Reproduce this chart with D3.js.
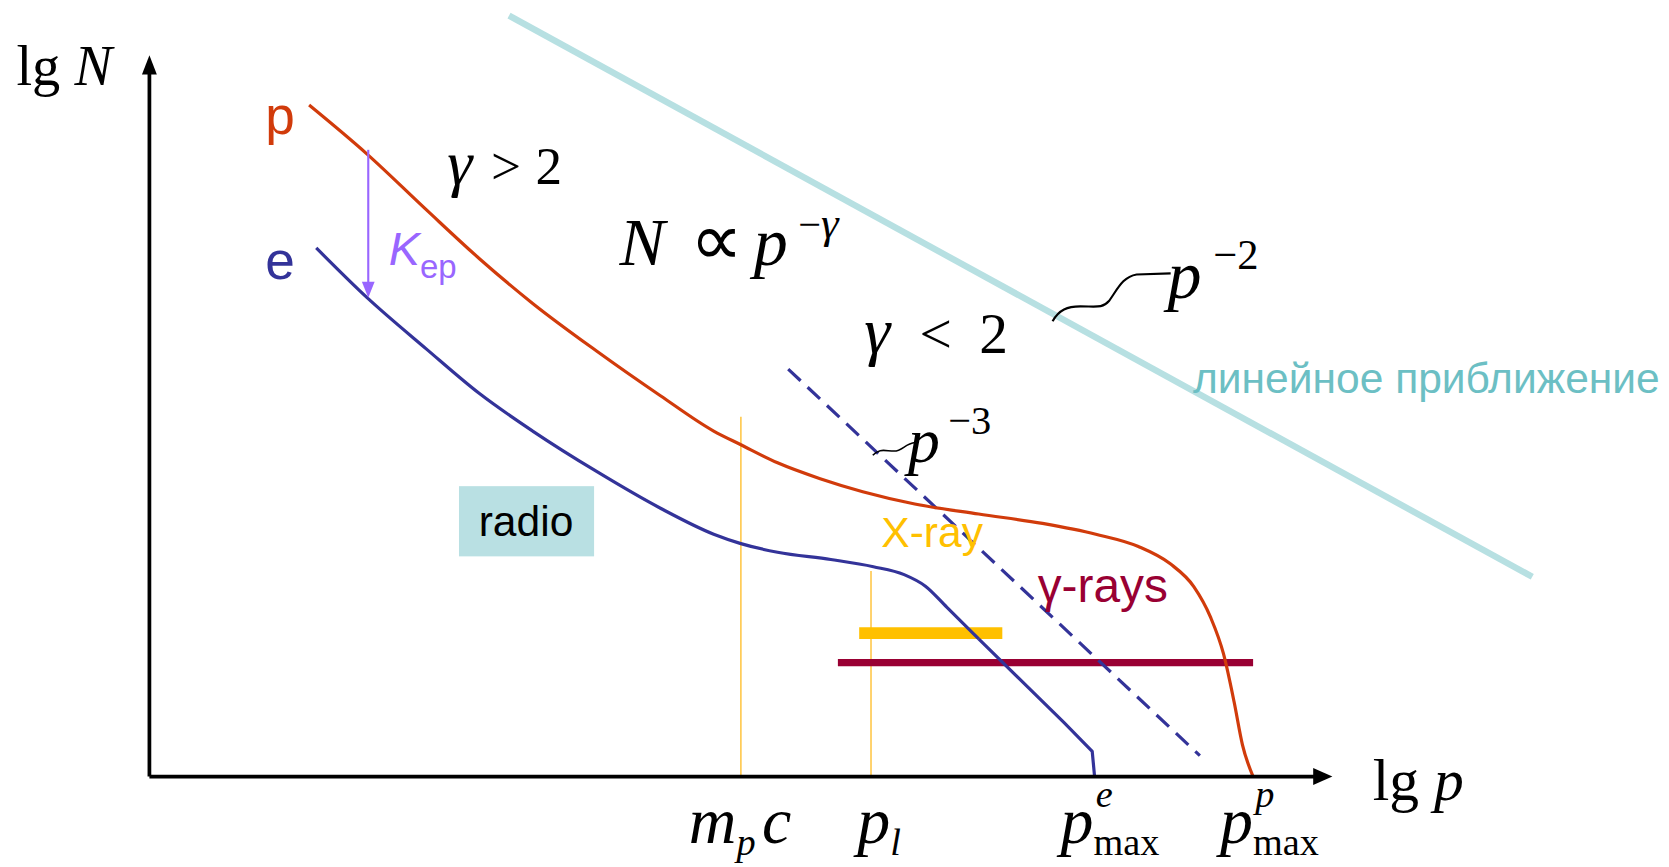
<!DOCTYPE html>
<html>
<head>
<meta charset="utf-8">
<script src="https://cdn.jsdelivr.net/npm/d3@7"></script>
<style>
  body { margin: 0; background: #fff; }
  text { font-family: "Liberation Sans", Arial, sans-serif; }
  .math { font-family: "Liberation Serif", "Times New Roman", serif; }
</style>
</head>
<body>
<div id="chart"></div>
<script>
// schematic spectra, arbitrary units: [lg p, lg N]
var protonCurve = [
  [1.35, 9.31], [1.84, 8.63], [2.34, 7.86], [2.79, 7.18], [3.24, 6.56],
  [3.78, 5.90], [4.32, 5.28], [4.77, 4.79], [5.00, 4.60], [5.31, 4.35],
  [5.67, 4.13], [6.03, 3.95], [6.47, 3.78], [7.01, 3.64], [7.55, 3.51],
  [8.00, 3.36], [8.36, 3.19], [8.63, 2.95], [8.83, 2.63], [8.97, 2.21],
  [9.08, 1.70], [9.17, 1.03], [9.24, 0.44], [9.33, 0.00]
];
var electronCurve = [
  [1.41, 7.33], [1.84, 6.64], [2.34, 5.93], [2.79, 5.31], [3.24, 4.79],
  [3.78, 4.23], [4.32, 3.72], [4.77, 3.36], [5.00, 3.23], [5.31, 3.11],
  [5.76, 3.01], [6.12, 2.91], [6.38, 2.80], [6.56, 2.64], [6.74, 2.35],
  [7.01, 1.91], [7.37, 1.33], [7.73, 0.75], [7.97, 0.35], [7.99, 0.00]
];
var electronBreak = 15;              // straight cut-off tail starts here
var slopeMinus3 = [[5.40, 5.65], [8.88, 0.29]];
var linearApprox = [[3.04, 10.55], [11.69, 2.77]];
var xrayBand = [6.00, 7.21, 1.99];   // from, to, level
var gammaBand = [5.82, 9.33, 1.58];
var kepArrow = [1.85, 8.69, 6.64];   // lg p, from, to
var markerValues = [5.00, 6.10];     // m_p c, p_l
var markerTops = [4.99, 2.85];
var tickValues = [5.00, 6.10, 7.99, 9.33];
var tickLabels = [
  { base: "m", sub: "p", tail: "c" },
  { base: "p", sub: "l" },
  { base: "p", sup: "e", sub: "max" },
  { base: "p", sup: "p", sub: "max" }
];

var W = 1568, H = 815;
var svg = d3.select("#chart").append("svg")
  .attr("width", 1669).attr("height", 867)
  .attr("viewBox", "0 0 " + W + " " + H);

var x = d3.scaleLinear().domain([0, 10]).range([140, 1252]);
var y = d3.scaleLinear().domain([0, 10]).range([730, 52]);

var line = d3.line()
  .x(function (d) { return x(d[0]); })
  .y(function (d) { return y(d[1]); });

// linear approximation
svg.append("path").datum(linearApprox)
  .attr("d", line).attr("fill", "none")
  .attr("stroke", "#B7E0E2").attr("stroke-width", 6);

// orange markers
svg.selectAll("line.marker").data(markerValues).enter().append("line")
  .attr("class", "marker")
  .attr("x1", function (d) { return x(d); })
  .attr("x2", function (d) { return x(d); })
  .attr("y1", function (d, i) { return y(markerTops[i]); })
  .attr("y2", y(0))
  .attr("stroke", "#FFC84A").attr("stroke-width", 1.5);

// bands
svg.append("line")
  .attr("x1", x(xrayBand[0])).attr("x2", x(xrayBand[1]))
  .attr("y1", y(xrayBand[2])).attr("y2", y(xrayBand[2]))
  .attr("stroke", "#FFC000").attr("stroke-width", 11);
svg.append("line")
  .attr("x1", x(gammaBand[0])).attr("x2", x(gammaBand[1]))
  .attr("y1", y(gammaBand[2])).attr("y2", y(gammaBand[2]))
  .attr("stroke", "#990033").attr("stroke-width", 7);

// p^-3 dashed
svg.append("path").datum(slopeMinus3)
  .attr("d", line).attr("fill", "none")
  .attr("stroke", "#333399").attr("stroke-width", 3)
  .attr("stroke-dasharray", "16,9");

var smooth = d3.line()
  .x(function (d) { return x(d[0]); })
  .y(function (d) { return y(d[1]); })
  .curve(d3.curveMonotoneX);

// electron: smooth body + straight tail with a sharp cut-off
svg.append("path").datum(electronCurve.slice(0, electronBreak + 1))
  .attr("d", smooth).attr("fill", "none")
  .attr("stroke", "#333399").attr("stroke-width", 3);
svg.append("path").datum(electronCurve.slice(electronBreak))
  .attr("d", line).attr("fill", "none")
  .attr("stroke", "#333399").attr("stroke-width", 3)
  .attr("stroke-linejoin", "round");
svg.append("path").datum(protonCurve)
  .attr("d", smooth).attr("fill", "none")
  .attr("stroke", "#D13B0B").attr("stroke-width", 3);

// axes
svg.append("line").attr("x1", x(0)).attr("x2", x(10) - 16)
  .attr("y1", y(0)).attr("y2", y(0))
  .attr("stroke", "#000").attr("stroke-width", 3.5);
svg.append("path")
  .attr("d", "M" + x(10) + "," + y(0) + "l-18,-8l0,16z").attr("fill", "#000");
svg.append("line").attr("x1", x(0)).attr("x2", x(0))
  .attr("y1", y(0)).attr("y2", y(10) + 16)
  .attr("stroke", "#000").attr("stroke-width", 3.5);
svg.append("path")
  .attr("d", "M" + x(0) + "," + y(10) + "l-7,18l14,0z").attr("fill", "#000");

// K_ep arrow
svg.append("line")
  .attr("x1", x(kepArrow[0])).attr("x2", x(kepArrow[0]))
  .attr("y1", y(kepArrow[1])).attr("y2", y(kepArrow[2]) - 12)
  .attr("stroke", "#9966FF").attr("stroke-width", 2);
svg.append("path")
  .attr("d", "M" + x(kepArrow[0]) + "," + y(kepArrow[2]) + "l-6,-15l12,0z")
  .attr("fill", "#9966FF");

// radio box
svg.append("rect").attr("x", 431).attr("y", 457).attr("width", 127).attr("height", 66)
  .attr("fill", "#B9E0E3");
svg.append("text").attr("x", 494).attr("y", 504).attr("text-anchor", "middle")
  .attr("font-size", 40).text("radio");

// axis titles
var t = svg.append("text").attr("class", "math").attr("x", 15).attr("y", 80).attr("font-size", 53);
t.append("tspan").text("lg ");
t.append("tspan").attr("font-style", "italic").text("N");
t = svg.append("text").attr("class", "math").attr("x", 1290).attr("y", 752).attr("font-size", 56);
t.append("tspan").text("lg ");
t.append("tspan").attr("font-style", "italic").text("p");

// tick labels
var ticks = svg.selectAll("g.tick").data(tickValues).enter().append("g")
  .attr("class", "tick")
  .attr("transform", function (d, i) {
    var off = [-49, -13, -32, -31][i];
    return "translate(" + (x(d) + off) + "," + (y(0) + 62) + ")";
  });
ticks.each(function (d, i) {
  var g = d3.select(this), lab = tickLabels[i];
  var base = g.append("text").attr("class", "math").attr("font-size", 62)
    .attr("font-style", "italic").text(lab.base);
  var w = base.node().getComputedTextLength();
  if (lab.sup) {
    g.append("text").attr("class", "math").attr("font-size", 36).attr("font-style", "italic")
      .attr("x", w + 2).attr("y", -33).text(lab.sup);
  }
  var sub = g.append("text").attr("class", "math").attr("font-size", 36)
    .attr("font-style", lab.sub === "max" ? "normal" : "italic")
    .attr("x", w).attr("y", 12).text(lab.sub);
  if (lab.tail) {
    var sw = sub.node().getComputedTextLength();
    g.append("text").attr("class", "math").attr("font-size", 62).attr("font-style", "italic")
      .attr("x", w + sw + 6).text(lab.tail);
  }
});

// series labels
svg.append("text").attr("x", 249).attr("y", 126).attr("font-size", 50)
  .attr("fill", "#D13B0B").text("p");
svg.append("text").attr("x", 249).attr("y", 262).attr("font-size", 50)
  .attr("fill", "#333399").text("e");
t = svg.append("text").attr("x", 365).attr("y", 249).attr("fill", "#9966FF");
t.append("tspan").attr("font-size", 44).attr("font-style", "italic").text("K");
t.append("tspan").attr("font-size", 31).attr("dy", 12).text("ep");

// formulas, glyphs placed one by one for the wide spacing
t = svg.append("text").attr("class", "math").attr("y", 173).attr("font-size", 50);
t.append("tspan").attr("x", 420).attr("font-size", 60).attr("font-style", "italic").text("\u03B3");
t.append("tspan").attr("x", 461).text(">");
t.append("tspan").attr("x", 503).text("2");

t = svg.append("text").attr("class", "math").attr("y", 249).attr("font-size", 64);
t.append("tspan").attr("x", 582).attr("font-style", "italic").text("N");
t.append("tspan").attr("x", 648).attr("font-size", 70).text("\u221D");
t.append("tspan").attr("x", 708).attr("font-style", "italic").text("p");
t.append("tspan").attr("x", 750).attr("y", 224).attr("font-size", 38).text("\u2212");
t.append("tspan").attr("font-size", 42).attr("font-style", "italic").text("\u03B3");

t = svg.append("text").attr("class", "math").attr("y", 332).attr("font-size", 54);
t.append("tspan").attr("x", 812).attr("font-size", 62).attr("font-style", "italic").text("\u03B3");
t.append("tspan").attr("x", 864).text("<");
t.append("tspan").attr("x", 920).text("2");

t = svg.append("text").attr("class", "math").attr("y", 280).attr("font-size", 64);
t.append("tspan").attr("x", 1097).attr("font-style", "italic").text("p");
t.append("tspan").attr("x", 1140).attr("y", 253).attr("font-size", 40).text("\u22122");
svg.append("path")
  .attr("d", "M989,302 C995,291 1003,288 1015,288 C1030,288 1036,290 1042,283 C1050,272 1055,260 1068,258 L1100,257")
  .attr("fill", "none").attr("stroke", "#000").attr("stroke-width", 2);

t = svg.append("text").attr("class", "math").attr("y", 434).attr("font-size", 60);
t.append("tspan").attr("x", 853).attr("font-style", "italic").text("p");
t.append("tspan").attr("x", 891).attr("y", 408).attr("font-size", 38).text("\u22123");
svg.append("path")
  .attr("d", "M820,428 C826,421 832,424 840,424 C848,424 850,417 860,416")
  .attr("fill", "none").attr("stroke", "#000").attr("stroke-width", 1.5);

// band and approximation labels
svg.append("text").attr("x", 828).attr("y", 514).attr("font-size", 40)
  .attr("fill", "#FFC000").text("X-ray");
svg.append("text").attr("x", 975).attr("y", 566).attr("font-size", 45)
  .attr("fill", "#990033").text("\u03B3-rays");
svg.append("text").attr("x", 1121).attr("y", 369).attr("font-size", 40)
  .attr("fill", "#6CBFC4").text("линейное приближение");
</script>
</body>
</html>
